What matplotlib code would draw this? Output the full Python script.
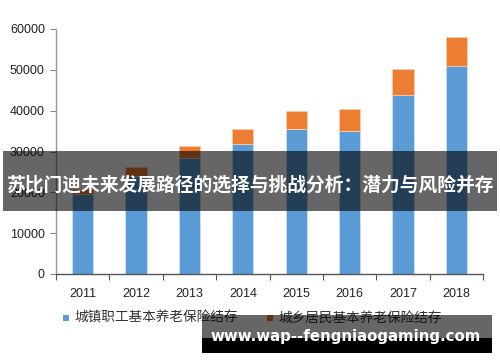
import matplotlib
matplotlib.use("Agg")
import matplotlib.pyplot as plt
from matplotlib.patches import Rectangle
import numpy as np

years = ["2011", "2012", "2013", "2014", "2015", "2016", "2017", "2018"]
urban_employee = [19500, 23900, 28300, 31800, 35400, 35000, 43900, 51000]
urban_rural = [1200, 2400, 3000, 3700, 4500, 5400, 6300, 7100]
series_names = ["城镇职工基本养老保险结存", "城乡居民基本养老保险结存"]
title_text = "苏比门迪未来发展路径的选择与挑战分析：潜力与风险并存"
watermark = "www.wap--fengniaogaming.com"

blue = "#5B9BD5"
orange = "#ED7D31"

fig = plt.figure(figsize=(5, 3.62), dpi=100)
W, H = 500, 362
ax = fig.add_axes([56 / W, 1 - 274 / H, (483 - 56) / W, (274 - 29) / H])

x = np.arange(len(years))
ax.bar(x, urban_employee, width=0.4, color=blue, edgecolor="#cfe0f1", linewidth=0.6, zorder=2)
ax.bar(x, urban_rural, width=0.4, bottom=urban_employee, color=orange, edgecolor="#f8cbb0", linewidth=0.6, zorder=2)

ax.set_xlim(-0.5, len(years) - 0.5)
ax.set_ylim(0, 60000)
ax.set_yticks([0, 10000, 20000, 30000, 40000, 50000, 60000])
ax.set_yticklabels(["0", "10000", "20000", "30000", "40000", "50000", "60000"],
                   fontsize=9, color="#222222", family="Liberation Sans")
ax.set_xticks(x)
ax.set_xticklabels(years, fontsize=9, color="#222222", family="Liberation Sans")
ax.tick_params(axis="x", which="major", length=0, pad=10)
ax.set_xticks(np.arange(-0.5, len(years)), minor=True)
ax.tick_params(axis="x", which="minor", length=4, color="#555555", width=0.8, direction="out")
ax.tick_params(axis="y", length=4, color="#888888", width=0.8, pad=4)
for s in ["top", "right"]:
    ax.spines[s].set_visible(False)
ax.spines["left"].set_color("#999999")
ax.spines["bottom"].set_color("#555555")
ax.spines["left"].set_linewidth(1.0)
ax.spines["bottom"].set_linewidth(1.0)

# legend drawn manually in figure coords
cjk = ["Noto Sans CJK SC", "DejaVu Sans"]
for mx, tx, col, name in [(63, 74, blue, series_names[0]), (267, 278, orange, series_names[1])]:
    fig.patches.append(Rectangle((mx / W, 1 - 321 / H), 6 / W, 6 / H, transform=fig.transFigure,
                                 facecolor=col, edgecolor="none"))
    fig.text(tx / W, 1 - 318 / H, name, fontsize=9.8, color="#333333", family=cjk,
             va="center", ha="left")

# title band overlay
fig.patches.append(Rectangle((3 / W, 1 - 211 / H), 494 / W, 60 / H, transform=fig.transFigure,
                             facecolor="black", alpha=0.6, edgecolor="none", zorder=10))
fig.text(250 / W, 1 - 185 / H, title_text, fontsize=13.5, color="white", weight="bold",
         family=cjk, ha="center", va="center", zorder=11)

# watermark boxes
fig.patches.append(Rectangle((202 / W, 1 - 338 / H), 290 / W, 23 / H, transform=fig.transFigure,
                             facecolor="black", alpha=0.6, edgecolor="none", zorder=10))
fig.patches.append(Rectangle((202 / W, 1 - 353 / H), 290 / W, 15 / H, transform=fig.transFigure,
                             facecolor="black", edgecolor="none", zorder=10))
fig.text(346 / W, 1 - 336 / H, watermark, fontsize=10.8, color="white", weight="bold",
         family="DejaVu Sans", ha="center", va="center", zorder=11)

fig.savefig("out.png", dpi=100)
